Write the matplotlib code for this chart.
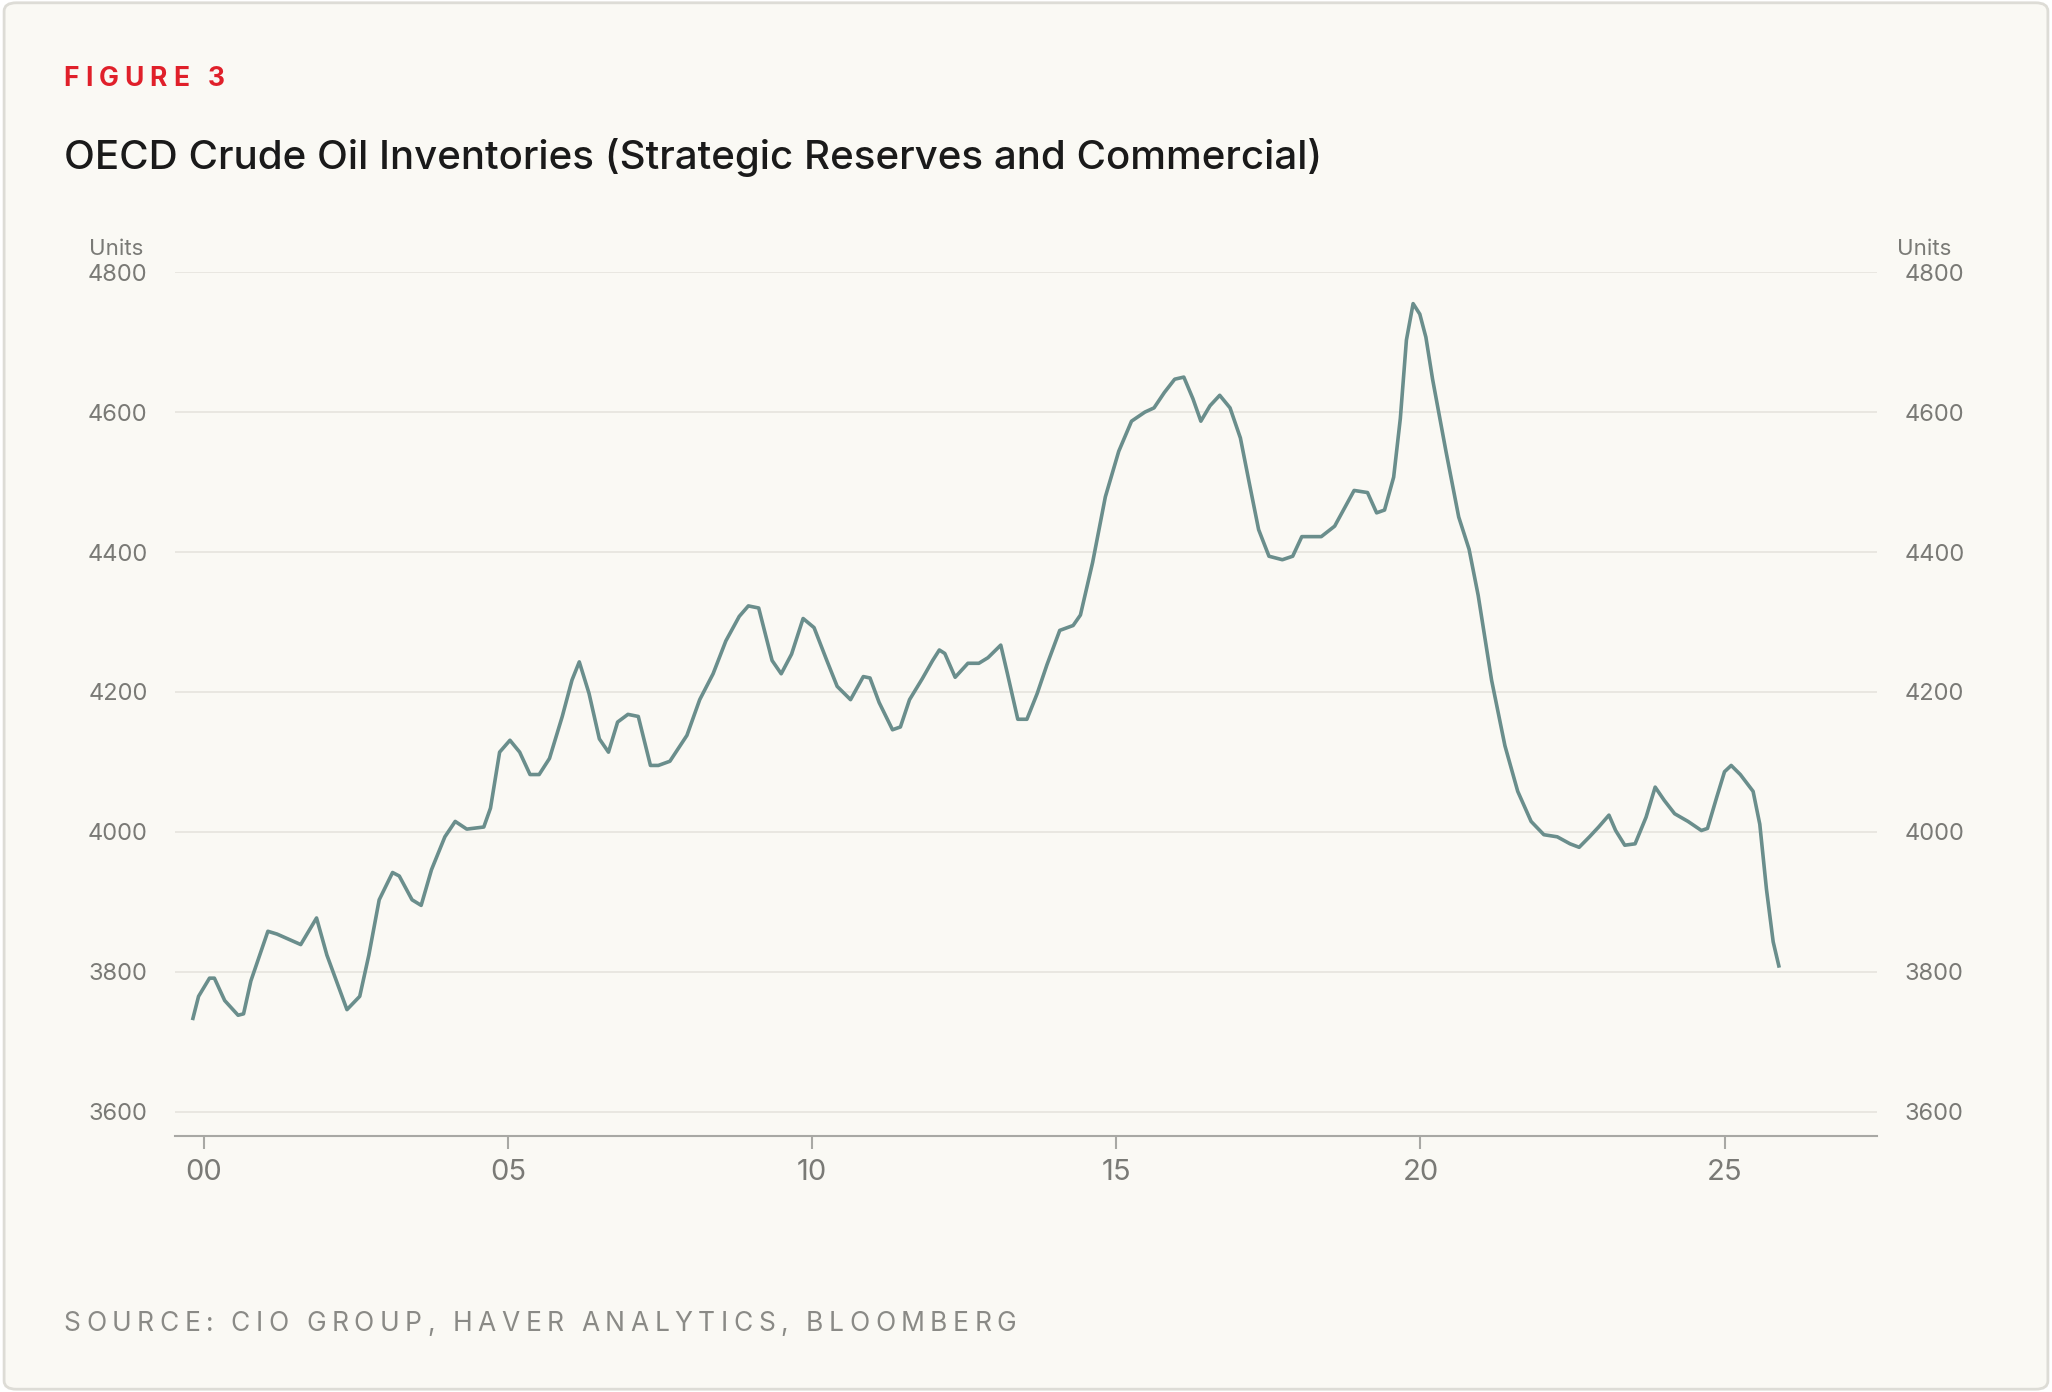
import matplotlib
matplotlib.use("Agg")
import matplotlib.pyplot as plt
from matplotlib.patches import FancyBboxPatch

plt.rcParams["font.family"] = ["Inter", "DejaVu Sans"]

# OECD crude inventories (decimal year, units)
years = [1999.81, 1999.91, 2000.09, 2000.17, 2000.34, 2000.56, 2000.65, 2000.77, 2001.05, 2001.20,
         2001.59, 2001.85, 2002.02, 2002.35, 2002.56, 2002.71, 2002.88, 2003.10, 2003.21, 2003.42,
         2003.57, 2003.74, 2003.96, 2004.13, 2004.32, 2004.60, 2004.71, 2004.86, 2005.03, 2005.19,
         2005.36, 2005.51, 2005.68, 2005.89, 2006.05, 2006.17, 2006.33, 2006.50, 2006.65, 2006.80,
         2006.97, 2007.14, 2007.34, 2007.47, 2007.66, 2007.94, 2008.15, 2008.37, 2008.58, 2008.80,
         2008.95, 2009.12, 2009.34, 2009.49, 2009.66, 2009.85, 2010.03, 2010.24, 2010.41, 2010.63,
         2010.84, 2010.95, 2011.10, 2011.32, 2011.45, 2011.60, 2011.81, 2011.98, 2012.09, 2012.18,
         2012.35, 2012.56, 2012.74, 2012.89, 2013.10, 2013.21, 2013.38, 2013.53, 2013.70, 2013.86,
         2014.07, 2014.29, 2014.41, 2014.61, 2014.82, 2015.04, 2015.25, 2015.47, 2015.62, 2015.79,
         2015.96, 2016.11, 2016.26, 2016.39, 2016.54, 2016.70, 2016.87, 2017.04, 2017.19, 2017.34,
         2017.51, 2017.73, 2017.90, 2018.05, 2018.20, 2018.37, 2018.59, 2018.76, 2018.91, 2019.13,
         2019.28, 2019.41, 2019.56, 2019.67, 2019.77, 2019.88, 2019.99, 2020.09, 2020.20, 2020.42,
         2020.63, 2020.80, 2020.95, 2021.17, 2021.39, 2021.60, 2021.82, 2022.03, 2022.25, 2022.46,
         2022.61, 2022.78, 2022.93, 2023.10, 2023.21, 2023.36, 2023.53, 2023.71, 2023.86, 2024.01,
         2024.18, 2024.40, 2024.62, 2024.72, 2024.87, 2025.00, 2025.11, 2025.26, 2025.47, 2025.58,
         2025.69, 2025.80, 2025.90]
values = [3731, 3765, 3791, 3791, 3759, 3738, 3740, 3787, 3858, 3854,
          3839, 3877, 3824, 3746, 3765, 3824, 3903, 3942, 3937, 3903,
          3895, 3946, 3993, 4015, 4004, 4007, 4034, 4114, 4131, 4114,
          4082, 4082, 4105, 4165, 4217, 4243, 4198, 4133, 4114, 4157,
          4168, 4165, 4095, 4095, 4101, 4138, 4189, 4226, 4273, 4308,
          4323, 4320, 4245, 4226, 4254, 4305, 4292, 4245, 4208, 4189,
          4222, 4220, 4185, 4146, 4150, 4189, 4219, 4245, 4260, 4255,
          4221, 4241, 4241, 4249, 4267, 4226, 4161, 4161, 4198, 4239,
          4288, 4295, 4310, 4385, 4479, 4544, 4587, 4600, 4606, 4628,
          4647, 4650, 4619, 4587, 4609, 4624, 4606, 4563, 4497, 4432,
          4394, 4389, 4394, 4422, 4422, 4422, 4437, 4464, 4488, 4485,
          4456, 4460, 4507, 4591, 4703, 4755, 4740, 4707, 4647, 4544,
          4450, 4404, 4338, 4217, 4123, 4058, 4015, 3996, 3993, 3983,
          3978, 3993, 4007, 4024, 4002, 3981, 3983, 4021, 4064, 4045,
          4026, 4015, 4002, 4005, 4049, 4086, 4095, 4082, 4058, 4011,
          3918, 3843, 3806]

yticks = [3600, 3800, 4000, 4200, 4400, 4600, 4800]
xticks = [2000, 2005, 2010, 2015, 2020, 2025]
xlabels = ["00", "05", "10", "15", "20", "25"]

BG = "#faf9f4"
GREY = "#7a7a76"
LINE = "#6a8e8c"


def spaced(ax_or_fig, x, y, text, gap, **kw):
    # draw letters one by one to imitate tracking
    fig_ = ax_or_fig
    r = fig_.canvas.get_renderer()
    for ch in text:
        t = fig_.text(x, y, ch, **kw)
        w = t.get_window_extent(renderer=r).width
        if ch == " ":
            w = kw.get("fontsize", 12) * 0.35
        x += (w + gap) / fig_.bbox.width


fig = plt.figure(figsize=(20.52, 13.92), dpi=100, facecolor="white")
fig.patches.append(FancyBboxPatch((0.002, 0.002), 0.996, 0.996, boxstyle="round,pad=0,rounding_size=0.006",
                                  transform=fig.transFigure, facecolor=BG, edgecolor="#dddcd6",
                                  linewidth=2, zorder=-10))

ax = fig.add_axes([0.0855, 0.1842, 0.829, 0.6203])
ax.set_facecolor(BG)
ax.plot(years, values, color=LINE, lw=2.6, solid_capstyle="butt")
ax.set_xlim(1999.53, 2027.5)
ax.set_ylim(3566, 4800)
ax.set_yticks(yticks)
ax.set_xticks(xticks)
ax.set_xticklabels(xlabels)
ax.grid(axis="y", color="#e6e4de", lw=1.2)
ax.set_axisbelow(True)
for s in ["top", "left", "right"]:
    ax.spines[s].set_visible(False)
ax.spines["bottom"].set_color("#a8a8a4")
ax.spines["bottom"].set_linewidth(1.5)
ax.tick_params(axis="x", colors="#a8a8a4", length=9, width=1.5, labelcolor=GREY, labelsize=21, pad=8)
ax.tick_params(axis="y", length=0, labelcolor=GREY, labelsize=17, pad=20)
ax.tick_params(axis="y", which="both", labelright=True)
ax.text(-0.035, 1.015, "Units", transform=ax.transAxes, ha="center", va="bottom", fontsize=16, color=GREY)
ax.text(1.028, 1.015, "Units", transform=ax.transAxes, ha="center", va="bottom", fontsize=16, color=GREY)

spaced(fig, 0.031, 0.943, "FIGURE 3", 6, color="#e0202a", fontsize=19, weight="bold", va="center")
fig.text(0.031, 0.887, "OECD Crude Oil Inventories (Strategic Reserves and Commercial)",
         color="#1a1a1a", fontsize=29, weight="medium", va="center")
spaced(fig, 0.031, 0.049, "SOURCE: CIO GROUP, HAVER ANALYTICS, BLOOMBERG", 5.5,
       color="#8a8a86", fontsize=19, va="center")

fig.savefig("out.png", dpi=100, facecolor="white")
